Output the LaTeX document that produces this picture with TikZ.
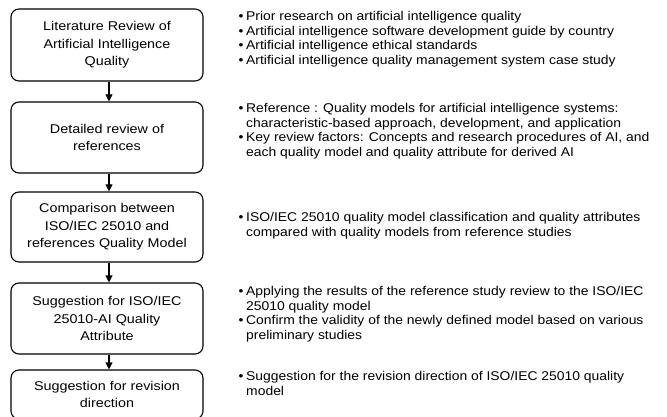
\documentclass[tikz,border=0pt]{standalone}
\usepackage{fontspec}
\setmainfont{Liberation Sans}[FakeStretch=1.13]
\newfontfamily\bulletfont{Liberation Sans}[FakeStretch=1.095]
\usetikzlibrary{arrows.meta}
\begin{document}
\begin{tikzpicture}[x=1pt,y=-1pt]
\useasboundingbox (0,0) rectangle (667,417);
\clip (0,0) rectangle (667,417);
\tikzset{
 stepbox/.style={draw, line width=1.1pt, rounded corners=8pt, minimum width=192pt, align=center, inner sep=0pt, font=\fontsize{12.7}{17.6}\selectfont},
 flow/.style={-{Triangle[length=7pt,width=7pt]}, line width=1.1pt},
 btext/.style={anchor=base west, inner sep=0pt, font=\bulletfont\fontsize{12.7}{14.5}\selectfont},
 bdot/.style={anchor=base, inner sep=0pt, font=\bulletfont\fontsize{12.7}{14.5}\selectfont}
}
\newcommand{\lns}[1]{\begin{tabular}[t]{@{}l@{}}#1\end{tabular}}
% boxes
\node[stepbox, minimum height=72pt] (b1) at (107,45) {Literature Review of\\Artificial Intelligence\\Quality};
\node[stepbox, minimum height=71pt] (b2) at (107,137.5) {Detailed review of\\references};
\node[stepbox, minimum height=70pt] (b3) at (107,227) {Comparison between\\ISO/IEC 25010 and\\references Quality Model};
\node[stepbox, minimum height=71pt] (b4) at (107,318.5) {Suggestion for ISO/IEC\\25010-AI Quality\\Attribute};
\node[stepbox, minimum height=49pt] (b5) at (107,394.5) {Suggestion for revision\\direction};
% arrows
\draw[flow] ([xshift=2pt]b1.south) -- ([xshift=2pt]b2.north);
\draw[flow] ([xshift=2pt]b2.south) -- ([xshift=2pt]b3.north);
\draw[flow] ([xshift=2pt]b3.south) -- ([xshift=2pt]b4.north);
\draw[flow] ([xshift=2pt]b4.south) -- ([xshift=2pt]b5.north);
% bullet texts
\node[bdot] (d1) at (241,21) {•};
\node[btext] (t1) at (246,21) {\lns{Prior research on artificial intelligence quality}};
\node[bdot] (d2) at (241,35.5) {•};
\node[btext] (t2) at (246,35.5) {\lns{Artificial intelligence software development guide by country}};
\node[bdot] (d3) at (241,50) {•};
\node[btext] (t3) at (246,50) {\lns{Artificial intelligence ethical standards}};
\node[bdot] (d4) at (241,64.5) {•};
\node[btext] (t4) at (246,64.5) {\lns{Artificial intelligence quality management system case study}};
\node[bdot] (d5) at (241,113) {•};
\node[btext] (t5) at (246,113) {\lns{Reference : Quality models for artificial intelligence systems:\\characteristic-based approach, development, and application}};
\node[bdot] (d6) at (241,142) {•};
\node[btext] (t6) at (246,142) {\lns{Key review factors: Concepts and research procedures of AI, and\\each quality model and quality attribute for derived AI}};
\node[bdot] (d7) at (241,222) {•};
\node[btext] (t7) at (246,222) {\lns{ISO/IEC 25010 quality model classification and quality attributes\\compared with quality models from reference studies}};
\node[bdot] (d8) at (241,295.5) {•};
\node[btext] (t8) at (246,295.5) {\lns{Applying the results of the reference study review to the ISO/IEC\\25010 quality model}};
\node[bdot] (d9) at (241,324.5) {•};
\node[btext] (t9) at (246,324.5) {\lns{Confirm the validity of the newly defined model based on various\\preliminary studies}};
\node[bdot] (d10) at (241,380.5) {•};
\node[btext] (t10) at (246,380.5) {\lns{Suggestion for the revision direction of ISO/IEC 25010 quality\\model}};
\end{tikzpicture}
\end{document}
